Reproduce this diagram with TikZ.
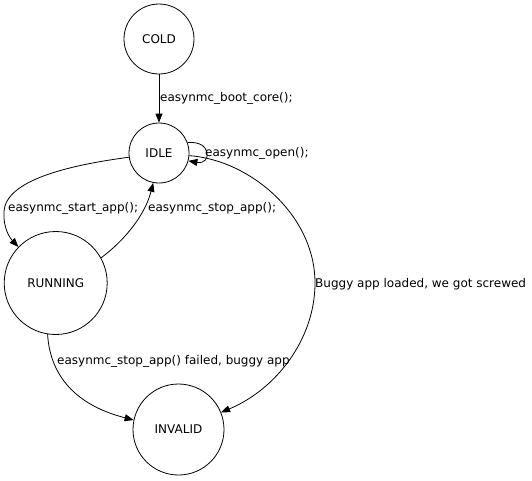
\documentclass[tikz,border=0pt]{standalone}
\usepackage{fontspec}
\setmainfont{DejaVu Sans}
\usetikzlibrary{arrows.meta}
\begin{document}
\begin{tikzpicture}[x=1pt,y=-1pt,
  state/.style={draw,circle,inner sep=0pt,line width=0.8pt,font=\fontsize{12}{14}\selectfont},
  edge/.style={draw,line width=0.8pt,-{Triangle[length=9pt,width=7pt]}},
  lbl/.style={anchor=west,inner sep=0pt,font=\fontsize{12}{14}\selectfont}]
\useasboundingbox[fill=white] (0,0) rectangle (532,480);
\node[state,minimum size=70pt] (cold) at (159,39) {COLD};
\node[state,minimum size=60pt] (idle) at (159,153) {IDLE};
\node[state,minimum size=103pt] (running) at (55.7,283) {RUNNING};
\node[state,minimum size=91pt] (invalid) at (178.5,429.5) {INVALID};
\draw[edge] (cold.south) -- (idle.north);
\draw[edge] (idle.20) .. controls (212,140) and (212,165) .. (idle.-15);
\draw[edge] (idle.188) .. controls (70,165) and (5,180) .. (4,212) .. controls (3,228) and (10,238) .. (running.136);
\draw[edge] (running.29) .. controls (125,240) and (145,215) .. (idle.-101);
\draw[edge] (idle.-5) .. controls (250,160) and (315,215) .. (315,283) .. controls (315,340) and (275,390) .. (invalid.22);
\draw[edge] (running.-99) .. controls (50,375) and (75,405) .. (invalid.168);
\node[lbl] (l1) at (160,98) {easynmc\_boot\_core();};
\node[lbl] (l2) at (205,153) {easynmc\_open();};
\node[lbl] (l3) at (8,208) {easynmc\_start\_app();};
\node[lbl] (l4) at (148,208) {easynmc\_stop\_app();};
\node[lbl] (l5) at (315,284) {Buggy app loaded, we got screwed};
\node[lbl] (l6) at (57,361) {easynmc\_stop\_app() failed, buggy app};
\end{tikzpicture}
\end{document}
